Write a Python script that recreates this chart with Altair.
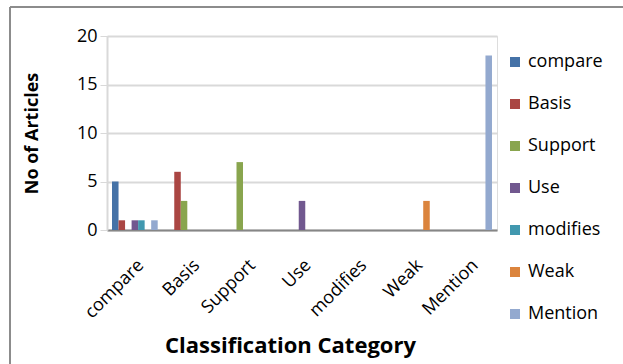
import altair as alt
import pandas as pd

categories = ["compare", "Basis", "Support", "Use", "modifies", "Weak", "Mention"]
series = ["compare", "Basis", "Support", "Use", "modifies", "Weak", "Mention"]
colors = ["#4572A7", "#AA4643", "#89A54E", "#71588F", "#4198AF", "#DB843D", "#93A9CF"]

# values[series][category]
v_compare = [5, 0, 0, 0, 0, 0, 0]
v_basis = [1, 6, 0, 0, 0, 0, 0]
v_support = [0, 3, 7, 0, 0, 0, 0]
v_use = [1, 0, 0, 3, 0, 0, 0]
v_modifies = [1, 0, 0, 0, 0, 0, 0]
v_weak = [0, 0, 0, 0, 0, 3, 0]
v_mention = [1, 0, 0, 0, 0, 0, 18]

vals = [v_compare, v_basis, v_support, v_use, v_modifies, v_weak, v_mention]
rows = []
for s, vs in zip(series, vals):
    for c, v in zip(categories, vs):
        rows.append({"Category": c, "Series": s, "Value": v})
df = pd.DataFrame(rows)

FONT = "Open Sans"

bars = alt.Chart(df).mark_bar().encode(
    x=alt.X("Category:N", sort=categories,
            scale=alt.Scale(paddingInner=0.18, paddingOuter=0.09),
            axis=alt.Axis(title="Classification Category", labelAngle=-45,
                          labelAlign="right", labelBaseline="top",
                          labelFontSize=18, labelFont=FONT, labelColor="#000",
                          labelPadding=26, ticks=False, domainColor="#868686",
                          domainWidth=2,
                          titleFont=FONT, titleFontSize=22, titleFontWeight="bold",
                          titleColor="#000", titleX=183, titleY=115,
                          titleBaseline="middle")),
    xOffset=alt.XOffset("Series:N", sort=series),
    y=alt.Y("Value:Q", scale=alt.Scale(domain=[0, 20]),
            axis=alt.Axis(title="No of Articles", values=[0, 5, 10, 15, 20],
                          labelFontSize=18, labelFont=FONT, labelColor="#000",
                          labelPadding=3, tickSize=7, tickColor="#d9d9d9",
                          gridColor="#d9d9d9", gridWidth=2, domainColor="#d9d9d9",
                          domainWidth=2,
                          titleFont=FONT, titleFontSize=18, titleFontWeight="bold",
                          titleColor="#000", titleX=-75, titleY=97,
                          titleAngle=-90, titleBaseline="middle")),
    color=alt.Color("Series:N", sort=series,
                    scale=alt.Scale(domain=series, range=colors),
                    legend=alt.Legend(title=None, orient="none", legendX=399,
                                      legendY=17, symbolType="square",
                                      symbolSize=100, symbolStrokeWidth=0,
                                      labelFont=FONT, labelFontSize=18,
                                      labelColor="#000", rowPadding=24,
                                      labelOffset=4)),
)

border_left = alt.Chart(pd.DataFrame({"a": [0]})).mark_rule(color="#8c8c8c", strokeWidth=2).encode(
    x=alt.value(-97), y=alt.value(-29), y2=alt.value(340))
border_top = alt.Chart(pd.DataFrame({"a": [0]})).mark_rule(color="#8c8c8c", strokeWidth=2).encode(
    x=alt.value(-97), x2=alt.value(530), y=alt.value(-29))

chart = alt.layer(bars, border_left, border_top).properties(
    width=390, height=194,
    autosize=alt.AutoSizeParams(type="none"),
    padding={"left": 107, "top": 36, "right": 126, "bottom": 134},
).configure_view(stroke=None).configure(background="white")

chart.save("out.html", embed_options={"renderer": "svg", "actions": False})
